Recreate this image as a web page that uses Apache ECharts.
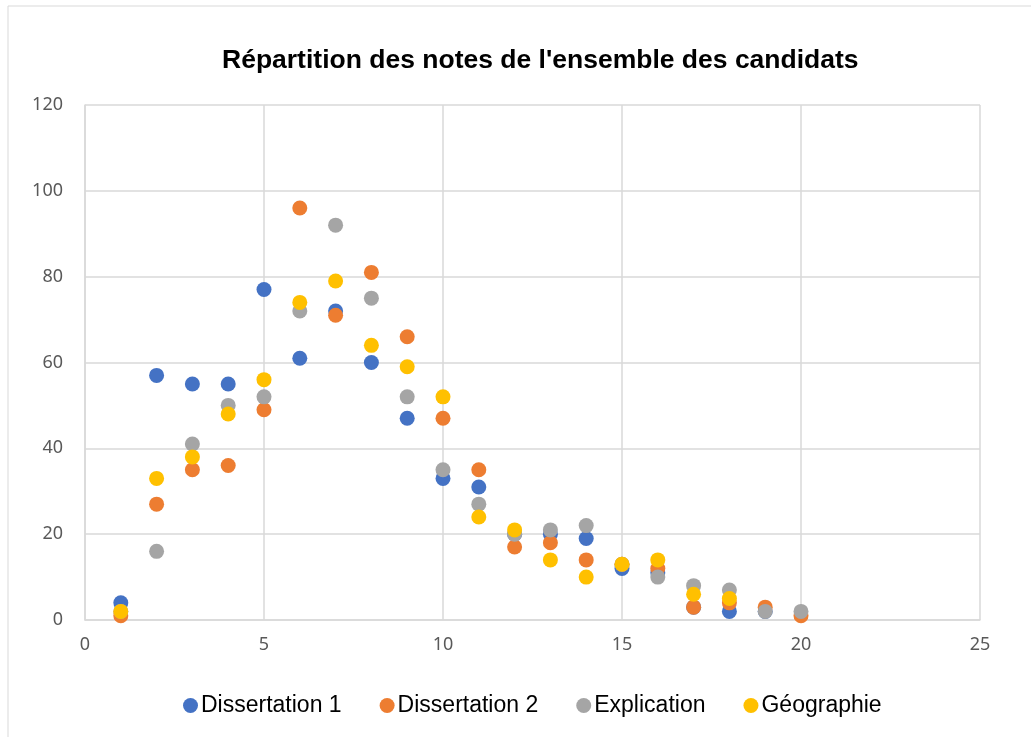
<!DOCTYPE html>
<html>
<head>
<meta charset="utf-8">
<script src="https://cdn.jsdelivr.net/npm/echarts@6/dist/echarts.min.js"></script>
<style>
  html, body { margin: 0; padding: 0; background: #fff; }
  #chart { width: 1031px; height: 737px; }
</style>
</head>
<body>
<div id="chart"></div>
<script>
var chart = echarts.init(document.getElementById("chart"));

// notes (x) et effectifs
var notes = [1, 2, 3, 4, 5, 6, 7, 8, 9, 10, 11, 12, 13, 14, 15, 16, 17, 18, 19, 20];
var dissertation1 = [4, 57, 55, 55, 77, 61, 72, 60, 47, 33, 31, 20, 20, 19, 12, 11, 3, 2, 2, null];
var dissertation2 = [1, 27, 35, 36, 49, 96, 71, 81, 66, 47, 35, 17, 18, 14, 13, 12, 3, 4, 3, 1];
var explication = [2, 16, 41, 50, 52, 72, 92, 75, 52, 35, 27, 20, 21, 22, 13, 10, 8, 7, 2, 2];
var geographie = [2, 33, 38, 48, 56, 74, 79, 64, 59, 52, 24, 21, 14, 10, 13, 14, 6, 5, null, null];

var names = ['Dissertation 1', 'Dissertation 2', 'Explication', 'Géographie'];
var colors = ['#4472C4', '#ED7D31', '#A5A5A5', '#FFC000'];

function pairs(values) {
    var out = [];
    for (var i = 0; i < notes.length; i++) {
        if (values[i] !== null) out.push([notes[i], values[i]]);
    }
    return out;
}

var series = [dissertation1, dissertation2, explication, geographie].map(function (vals, i) {
    return {
        name: names[i],
        type: 'scatter',
        symbol: 'circle',
        symbolSize: 15,
        itemStyle: { color: colors[i], opacity: 1 },
        data: pairs(vals)
    };
});

var labelStyle = { color: '#595959', fontSize: 18, fontFamily: 'Noto Sans' };

var option = {
    animation: false,
    color: colors,
    title: {
        text: "Répartition des notes de l'ensemble des candidats",
        left: 217,
        top: 42,
        textStyle: { fontFamily: 'Liberation Sans', fontSize: 26.5, fontWeight: 'bold', color: '#000' }
    },
    graphic: [{
        type: 'rect',
        shape: { x: 8, y: 6, width: 1040, height: 760 },
        style: { fill: 'none', stroke: '#D9D9D9', lineWidth: 1 },
        silent: true
    }],
    grid: { left: 85, right: 51, top: 105, bottom: 117 },
    xAxis: {
        type: 'value',
        min: 0, max: 25, interval: 5,
        axisLine: { show: true, lineStyle: { color: '#D9D9D9', width: 1.5 } },
        axisTick: { show: false },
        splitLine: { show: true, lineStyle: { color: '#D9D9D9', width: 1.5 } },
        axisLabel: Object.assign({ margin: 16 }, labelStyle)
    },
    yAxis: {
        type: 'value',
        min: 0, max: 120, interval: 20,
        axisLine: { show: true, lineStyle: { color: '#D9D9D9', width: 1.5 } },
        axisTick: { show: false },
        splitLine: { show: true, lineStyle: { color: '#D9D9D9', width: 1.5 } },
        axisLabel: Object.assign({ margin: 22 }, labelStyle)
    },
    legend: {
        bottom: 15,
        left: 178,
        itemWidth: 15,
        itemHeight: 15,
        itemGap: 38,
        icon: 'circle',
        textStyle: { fontFamily: 'Liberation Sans', fontSize: 23, color: '#000', padding: [0, 0, 0, -2] },
        data: names
    },
    series: series
};
chart.setOption(option);
</script>
</body>
</html>
